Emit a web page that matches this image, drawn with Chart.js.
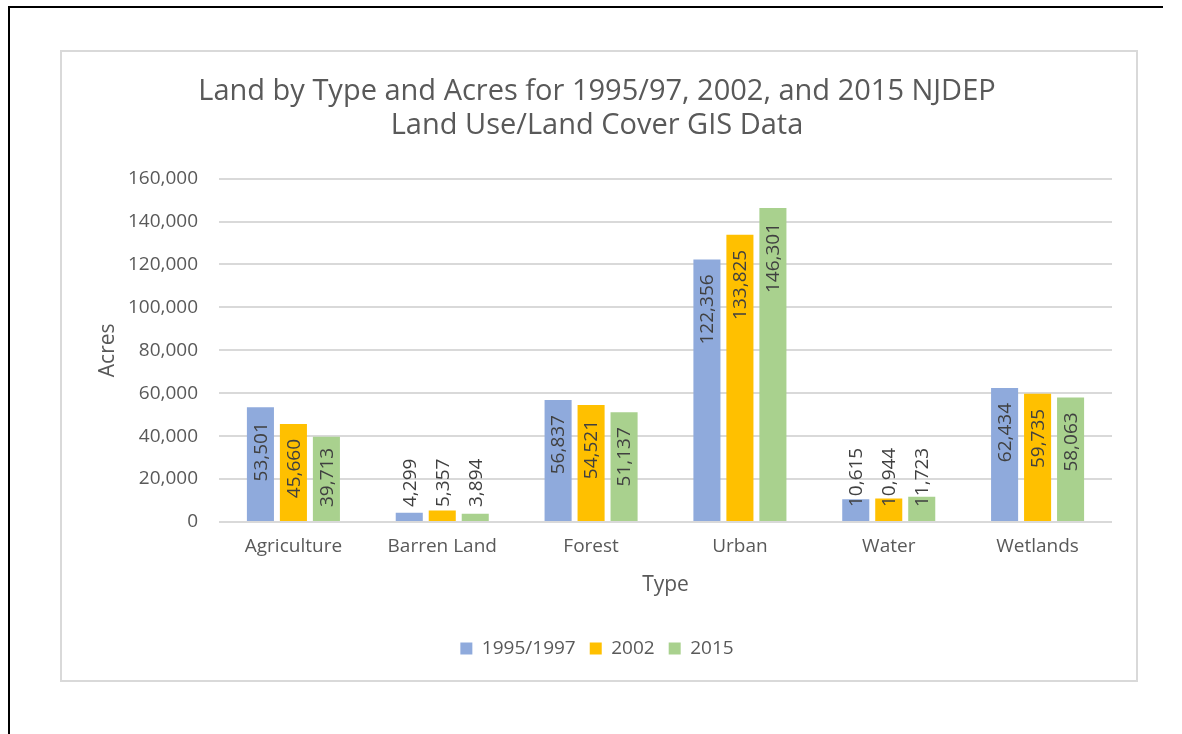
<!DOCTYPE html>
<html><head><meta charset="utf-8">
<script src="https://cdn.jsdelivr.net/npm/chart.js@4/dist/chart.umd.min.js"></script>
<style>html,body{margin:0;padding:0;background:#fff}canvas{display:block}</style>
</head><body>
<canvas id="c" width="1182" height="734"></canvas>
<script>
const categories = ['Agriculture', 'Barren Land', 'Forest', 'Urban', 'Water', 'Wetlands'];
const seriesNames = ['1995/1997', '2002', '2015'];
const values1995 = [53501, 4299, 56837, 122356, 10615, 62434];
const values2002 = [45660, 5357, 54521, 133825, 10944, 59735];
const values2015 = [39713, 3894, 51137, 146301, 11723, 58063];
const seriesColors = ['#8FAADC', '#FFC000', '#A9D18E'];
const yMin = 0, yMax = 160000, yStep = 20000;
const titleLines = ['Land by Type and Acres for 1995/97, 2002, and 2015 NJDEP', 'Land Use/Land Cover GIS Data'];
const xTitle = 'Type';
const yTitle = 'Acres';

const FONT = "'Open Sans', sans-serif";
const fmt = v => v.toLocaleString('en-US');

const framePlugin = {
  id: 'frame',
  beforeDraw(chart) {
    const ctx = chart.ctx;
    ctx.save();
    ctx.fillStyle = '#ffffff';
    ctx.fillRect(0, 0, chart.width, chart.height);
    ctx.fillStyle = '#000000';
    ctx.fillRect(8, 6, 1155, 2);
    ctx.fillRect(8, 6, 2, chart.height - 6);
    ctx.strokeStyle = '#d9d9d9';
    ctx.lineWidth = 2;
    ctx.strokeRect(61, 51, 1076, 630);
    ctx.restore();
  }
};

const labelPlugin = {
  id: 'barLabels',
  afterDatasetsDraw(chart) {
    const ctx = chart.ctx;
    ctx.save();
    ctx.font = '19px ' + FONT;
    ctx.fillStyle = '#404040';
    ctx.textAlign = 'center';
    ctx.textBaseline = 'middle';
    chart.data.datasets.forEach((ds, di) => {
      const meta = chart.getDatasetMeta(di);
      meta.data.forEach((bar, i) => {
        const txt = fmt(ds.data[i]);
        const w = ctx.measureText(txt).width;
        let top = bar.y + 15;
        if (top + w > bar.base - 14) top = bar.base - 14 - w;
        ctx.save();
        ctx.translate(bar.x, top + w / 2);
        ctx.rotate(-Math.PI / 2);
        ctx.fillText(txt, 0, 1);
        ctx.restore();
      });
    });
    ctx.restore();
  }
};

const seriesValues = [values1995, values2002, values2015];

new Chart(document.getElementById('c'), {
  type: 'bar',
  data: {
    labels: categories,
    datasets: seriesNames.map((name, k) => ({
      label: name,
      data: seriesValues[k],
      backgroundColor: seriesColors[k],
      borderWidth: 0,
      barPercentage: 0.82,
      categoryPercentage: 0.665
    }))
  },
  options: {
    responsive: false,
    animation: false,
    devicePixelRatio: 1,
    layout: { padding: { top: 0, left: 60, right: 48, bottom: 66 } },
    plugins: {
      title: {
        display: true,
        text: titleLines,
        color: '#595959',
        font: { family: FONT, size: 29, weight: 'normal', lineHeight: 1.2 },
        padding: { top: 74, bottom: 35 }
      },
      legend: {
        position: 'bottom',
        labels: {
          color: '#595959',
          font: { family: FONT, size: 19 },
          boxWidth: 12,
          boxHeight: 12,
          padding: 14
        }
      },
      tooltip: { enabled: false }
    },
    scales: {
      x: {
        grid: { display: false, drawTicks: false },
        border: { display: false },
        ticks: { color: '#595959', font: { family: FONT, size: 19 }, padding: 13, maxRotation: 0 },
        title: { display: true, text: xTitle, color: '#595959', font: { family: FONT, size: 21 }, padding: { top: 2, bottom: 27 } }
      },
      y: {
        min: yMin,
        max: yMax,
        grid: { color: '#d9d9d9', lineWidth: 2, drawTicks: false },
        border: { display: false },
        ticks: { stepSize: yStep, color: '#595959', font: { family: FONT, size: 19 }, padding: 21, callback: v => fmt(v) },
        title: { display: true, text: yTitle, color: '#595959', font: { family: FONT, size: 21 }, padding: { top: 35, bottom: 0 } },
        afterFit(s) { s.width = 159; }
      },
      yRight: {
        position: 'right',
        display: true,
        grid: { display: false, drawTicks: false },
        border: { display: false },
        ticks: { display: false },
        afterFit(s) { s.width = 22; }
      }
    }
  },
  plugins: [framePlugin, labelPlugin]
});
</script>
</body></html>
